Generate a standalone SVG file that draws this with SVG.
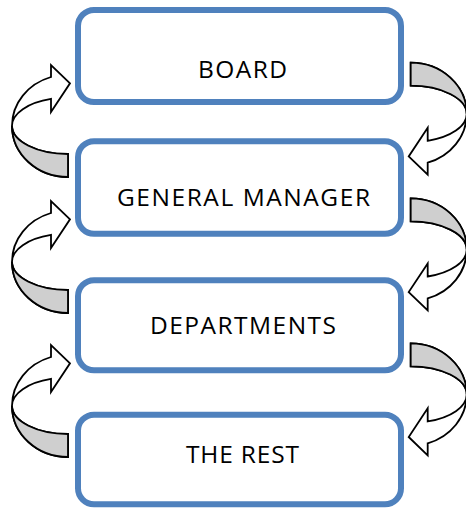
<svg xmlns="http://www.w3.org/2000/svg" xmlns:xlink="http://www.w3.org/1999/xlink" width="466" height="508" viewBox="0 0 466 508">
<style>
.box{fill:#ffffff;stroke:#4f81bd;stroke-width:6}
.lbl{font-family:"Open Sans","Noto Sans","Liberation Sans",sans-serif;font-size:24.5px;fill:#000000}
.arr{fill:#ffffff;stroke:#000000;stroke-width:1.8;stroke-linejoin:miter}
.shade{fill:#cfcfcf;stroke:#000000;stroke-width:1.8}
</style>
<defs>
<g id="curved">
<path class="arr" d="M -17,-48.8 L -17,-60.8 L 2,-42.5 L -17,-13.8 L -17,-26.9 A 56 28.2 0 0 0 -56,0 A 56 28.2 0 0 0 0,28.2 L 0,51.2 A 56 51.2 0 0 1 -56,0 A 56 51.2 0 0 1 -17,-48.8 Z"/>
<path class="shade" d="M -56,0 A 56 28.2 0 0 0 0,28.2 L 0,51.2 A 56 51.2 0 0 1 -56,0 Z"/>
</g>
</defs>
<rect width="466" height="508" fill="#ffffff"/>
<g id="connectors">
<use xlink:href="#curved" transform="translate(68,125.8)"/>
<use xlink:href="#curved" transform="translate(68,261.8)"/>
<use xlink:href="#curved" transform="translate(68,405.8)"/>
<use xlink:href="#curved" transform="translate(410.7,113.9) rotate(180)"/>
<use xlink:href="#curved" transform="translate(410.7,249.6) rotate(180)"/>
<use xlink:href="#curved" transform="translate(410.7,394.5) rotate(180)"/>
</g>
<g id="board">
<rect class="box" x="78" y="10" width="323" height="92" rx="16"/>
<text class="lbl" x="198" y="78.3" textLength="89" lengthAdjust="spacing">BOARD</text>
</g>
<g id="general-manager">
<rect class="box" x="78" y="141.3" width="323" height="92.4" rx="16"/>
<text class="lbl" x="117" y="206" textLength="253" lengthAdjust="spacing">GENERAL MANAGER</text>
</g>
<g id="departments">
<rect class="box" x="78" y="280.3" width="323" height="90" rx="16"/>
<text class="lbl" x="150" y="334" textLength="186" lengthAdjust="spacing">DEPARTMENTS</text>
</g>
<g id="the-rest">
<rect class="box" x="78" y="414.7" width="323" height="89.6" rx="16"/>
<text class="lbl" x="186" y="462.7" textLength="113" lengthAdjust="spacing">THE REST</text>
</g>
</svg>
